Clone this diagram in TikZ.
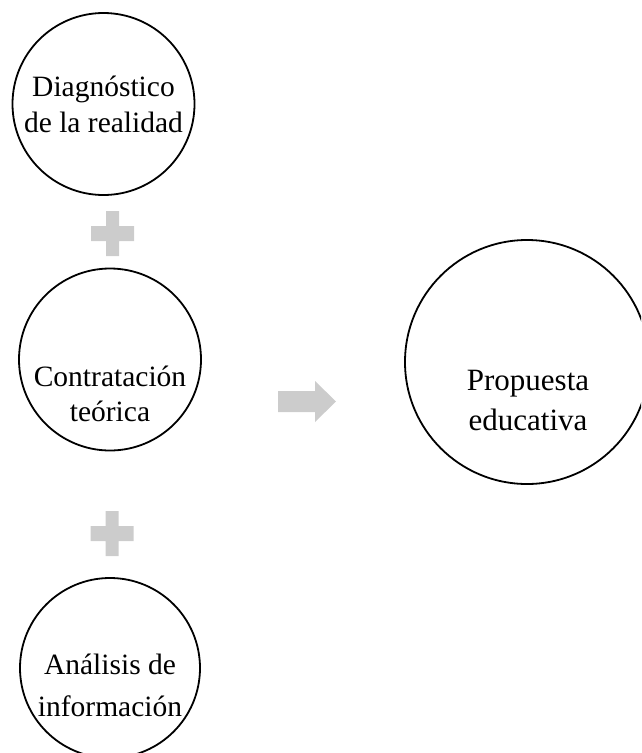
\documentclass[tikz,border=0pt]{standalone}
\usepackage{fontspec}
\setmainfont{Liberation Serif}
\definecolor{plusgray}{RGB}{204,204,204}
\tikzset{
  ring/.style={circle, draw=black, line width=1.8pt, inner sep=0pt, fill=none},
  ringtext/.style={align=center, inner sep=0pt, anchor=center},
  markshape/.style={fill=plusgray, draw=none}
}
\begin{document}
\begin{tikzpicture}[x=1pt,y=-1pt]
\useasboundingbox (0,0) rectangle (641,753);
\clip (0,0) rectangle (641,753);
% circles
\node[ring, minimum size=182pt] (diag) at (103.5,104) {};
\node[ring, minimum size=182pt] (contra) at (110,359.5) {};
\node[ring, minimum size=180pt] (anal) at (110,668) {};
\node[ring, minimum size=244pt] (prop) at (527,362) {};
% texts
\node[ringtext, font=\fontsize{29.5}{36}\selectfont] (diagtxt) at (103.5,104) {Diagnóstico\\de la realidad};
\node[ringtext, font=\fontsize{29.5}{35}\selectfont] (contratxt) at (110,394) {Contratación\\teórica};
\node[ringtext, font=\fontsize{29.5}{42}\selectfont] (analtxt) at (110,685) {Análisis de\\información};
\node[ringtext, font=\fontsize{31}{40}\selectfont] (proptxt) at (528,400) {Propuesta\\educativa};
% plus signs
\coordinate (p1) at (112.5,233.5);
\coordinate (p2) at (112,533.5);
\foreach \p in {p1,p2}{
  \fill[markshape] ([shift={(-6.5,-22.5)}]\p) -- ([shift={(6.5,-22.5)}]\p) -- ([shift={(6.5,-7.5)}]\p)
    -- ([shift={(21.5,-7.5)}]\p) -- ([shift={(21.5,7.5)}]\p) -- ([shift={(6.5,7.5)}]\p)
    -- ([shift={(6.5,22.5)}]\p) -- ([shift={(-6.5,22.5)}]\p) -- ([shift={(-6.5,7.5)}]\p)
    -- ([shift={(-21.5,7.5)}]\p) -- ([shift={(-21.5,-7.5)}]\p) -- ([shift={(-6.5,-7.5)}]\p) -- cycle;
}
% arrow
\coordinate (ar) at (278,401.5);
\fill[markshape] ([shift={(0,-10.5)}]ar) -- ([shift={(37,-10.5)}]ar) -- ([shift={(37,-20.5)}]ar)
  -- ([shift={(58,0)}]ar) -- ([shift={(37,20.5)}]ar) -- ([shift={(37,10.5)}]ar)
  -- ([shift={(0,10.5)}]ar) -- cycle;
\end{tikzpicture}
\end{document}
